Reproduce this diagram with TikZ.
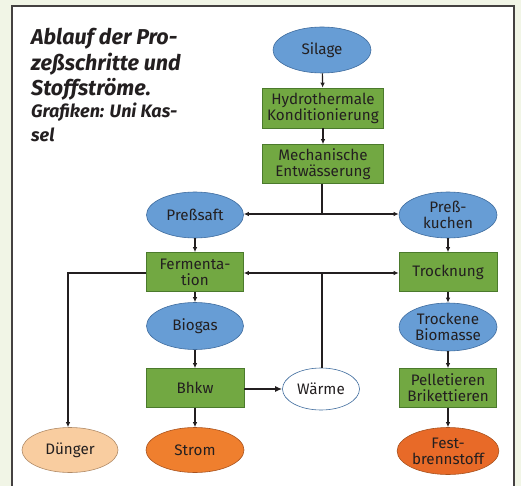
\documentclass[tikz,border=0pt]{standalone}
\usepackage{fontspec}
\setmainfont{Fira Sans}
\usetikzlibrary{arrows.meta,positioning,shapes.geometric}
\definecolor{bgout}{HTML}{F1F5E6}
\definecolor{ellblue}{HTML}{679DD5}
\definecolor{ellborder}{HTML}{3F6C9E}
\definecolor{boxgreen}{HTML}{72A842}
\definecolor{boxborder}{HTML}{4B7A2C}
\definecolor{peach}{HTML}{F9CDA0}
\definecolor{peachborder}{HTML}{B08A66}
\definecolor{orange1}{HTML}{EF7F2E}
\definecolor{orange2}{HTML}{E86A28}
\definecolor{orangeborder}{HTML}{A8521E}
\definecolor{txt}{HTML}{231F20}
\tikzset{
  base/.style={inner sep=0pt, text=txt, align=center, font=\fontsize{15.2}{16}\selectfont, line width=0.6pt},
  ell/.style={base, ellipse, draw=ellborder, fill=ellblue, minimum width=98pt, minimum height=46pt},
  boxn/.style={base, rectangle, draw=boxborder, fill=boxgreen, minimum width=98pt, minimum height=39pt},
  conn/.style={draw=txt, line width=1.1pt, -{Latex[length=5pt,width=4.5pt]}},
  plain/.style={draw=txt, line width=1.1pt},
  ttl/.style={anchor=base west, inner sep=0pt, text=txt, font=\fontsize{21.5}{26}\selectfont\bfseries\itshape},
  sub/.style={anchor=base west, inner sep=0pt, text=txt, font=\fontsize{18}{22}\selectfont\bfseries\itshape},
}
\begin{document}
\begin{tikzpicture}[x=1pt,y=-1pt]
\fill[bgout] (0,0) rectangle (521,486);
\useasboundingbox (0,0) rectangle (521,486);
\fill[white] (12,6) rectangle (514,490);
\draw[line width=1.2pt, draw=txt!85] (12,490) -- (12,6) -- (514,6) -- (514,490);

\node[ttl] (t1) at (31,45) {Ablauf der Pro-};
\node[ttl] (t2) at (31,71) {zeßschritte und};
\node[ttl] (t3) at (31,96) {Stoffströme.};
\node[sub] (t4) at (31,118) {Grafiken: Uni Kas-};
\node[sub] (t5) at (31,142) {sel};

\node[ell] (silage) at (322,50) {Silage};
\node[boxn, minimum width=121pt, minimum height=40pt] (hydro) at (323,108) {Hydrothermale\\Konditionierung};
\node[boxn, minimum width=121pt, minimum height=39pt] (mech) at (323,164) {Mechanische\\Entwässerung};
\node[ell, minimum width=97pt] (saft) at (195,215) {Preßsaft};
\node[ell] (kuchen) at (448,215) {Preß-\\kuchen};
\node[boxn, minimum width=97pt] (ferm) at (195,272) {Fermenta-\\tion};
\node[boxn] (trock) at (448,272) {Trocknung};
\node[ell, minimum width=97pt, minimum height=47pt] (biogas) at (195,326) {Biogas};
\node[ell, minimum height=48pt] (tbio) at (448,327) {Trockene\\Biomasse};
\node[boxn] (bhkw) at (195,388) {Bhkw};
\node[ell, fill=white, minimum width=77pt, minimum height=42pt] (waerme) at (321,389) {Wärme};
\node[boxn, minimum width=97pt] (pellet) at (448,388) {Pelletieren\\Brikettieren};
\node[ell, fill=peach, draw=peachborder, minimum width=96pt, minimum height=45pt] (duenger) at (70,450) {Dünger};
\node[ell, fill=orange1, draw=orangeborder, minimum width=98pt, minimum height=45pt] (strom) at (195,450) {Strom};
\node[ell, fill=orange2, draw=orangeborder, minimum width=98pt, minimum height=47pt] (fest) at (448,451) {Fest-\\brennstoff};

\coordinate (j1) at (322,214);
\coordinate (j2) at (322,273);
\coordinate (j3) at (68,273);

\draw[conn] (silage) -- (hydro);
\draw[conn] (hydro) -- (mech);
\draw[plain] (mech.south -| j1) -- (j1);
\draw[conn] (j1) -- (saft.east |- j1);
\draw[conn] (j1) -- (kuchen.west |- j1);
\draw[conn] (saft) -- (ferm);
\draw[conn] (kuchen) -- (trock);
\draw[plain] (waerme.north -| j2) -- (j2);
\draw[conn] (j2) -- (ferm.east |- j2);
\draw[conn] (j2) -- (trock.west |- j2);
\draw[conn] (ferm.west |- j3) -- (j3) -- (duenger.north -| j3);
\draw[conn] (ferm) -- (biogas);
\draw[conn] (biogas) -- (bhkw);
\draw[conn] (bhkw) -- (strom);
\draw[conn] (trock) -- (tbio);
\draw[conn] (tbio) -- (pellet);
\draw[conn] (pellet) -- (fest);
\draw[draw=txt, line width=1.8pt, -{Latex[length=7pt,width=6pt]}] (bhkw.east |- waerme.west) -- (waerme.west);
\end{tikzpicture}
\end{document}
